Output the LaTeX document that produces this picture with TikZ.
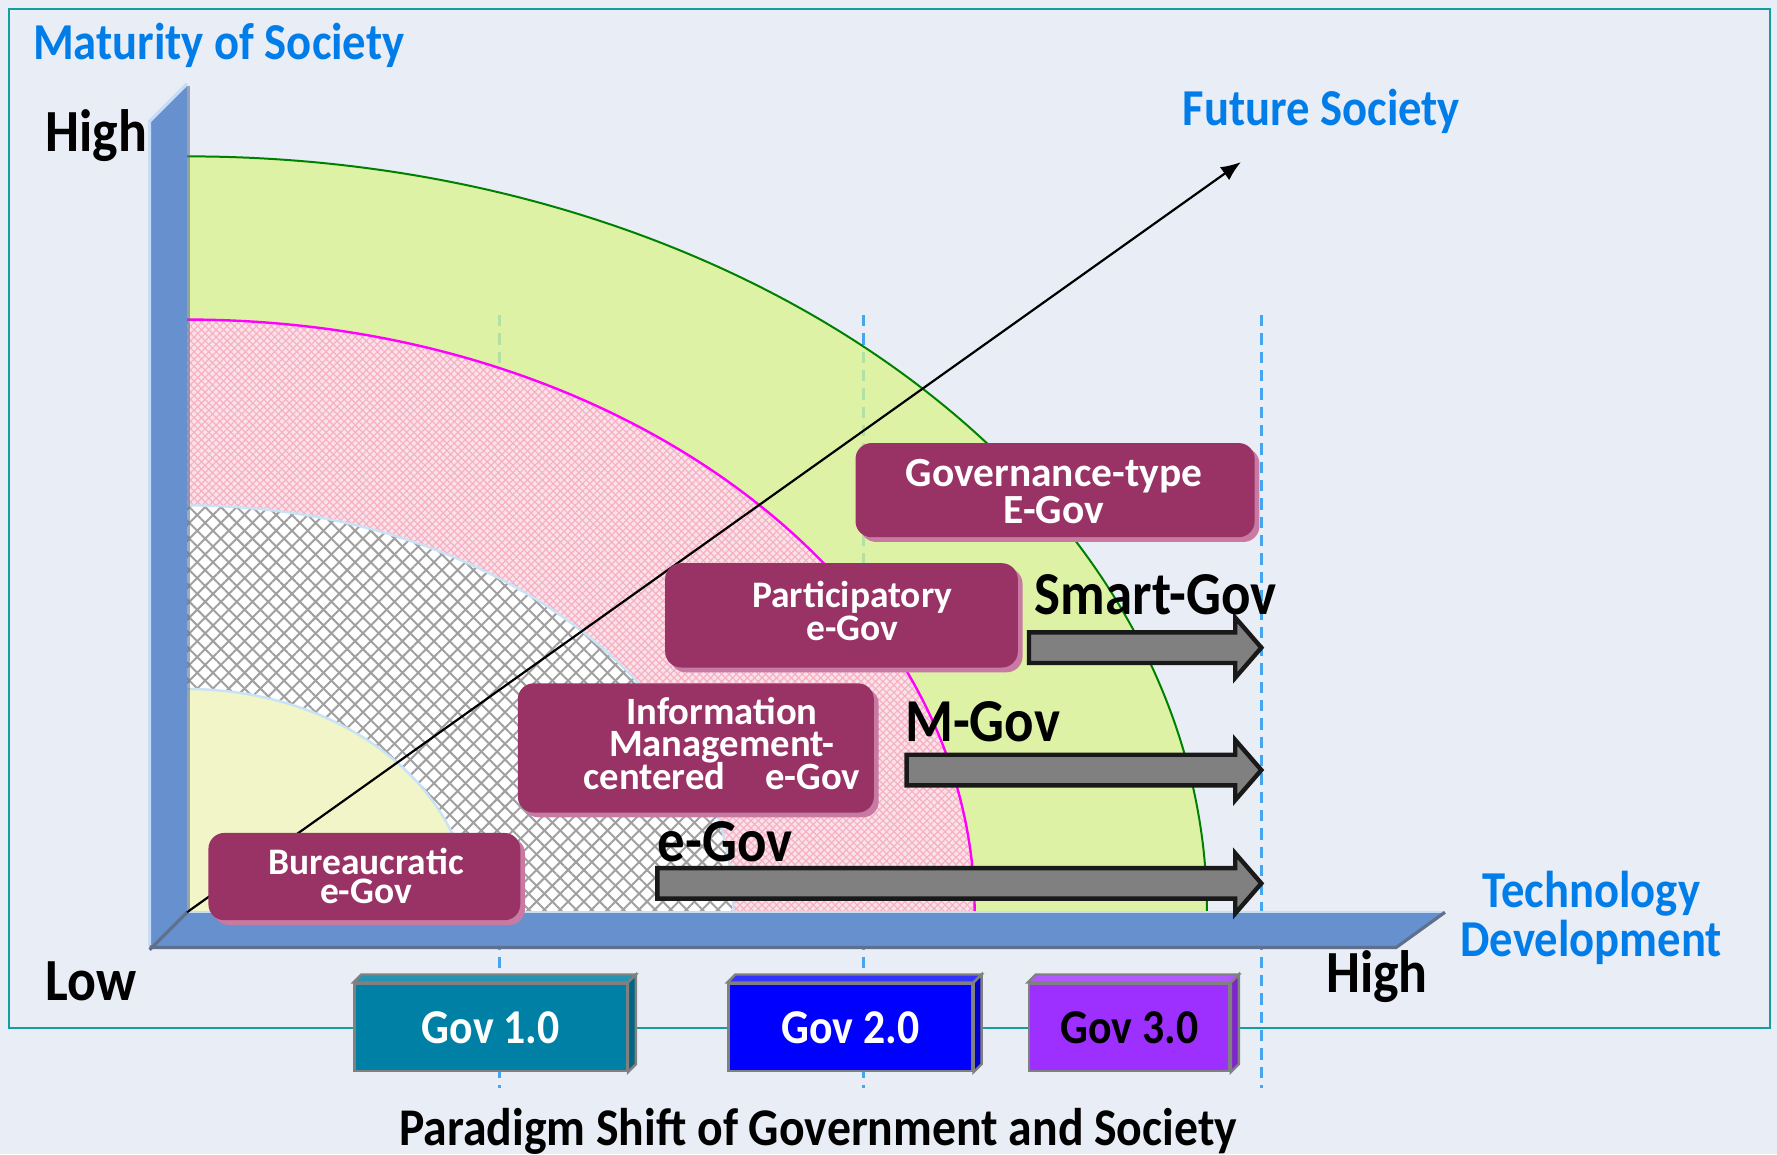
\documentclass[tikz,border=0pt]{standalone}
\usepackage{fontspec}
\setmainfont{Carlito}[FakeStretch=0.9]
\newfontfamily\boxfont{Carlito}
\usetikzlibrary{arrows.meta,patterns.meta,shadows}

\definecolor{bgcol}{RGB}{233,237,246}
\definecolor{framecol}{RGB}{20,158,158}
\definecolor{axiscol}{RGB}{102,144,206}
\definecolor{axisdark}{RGB}{95,112,140}
\definecolor{axislight}{RGB}{200,220,245}
\definecolor{titleblue}{RGB}{0,125,232}
\definecolor{greenfill}{RGB}{217,244,138}
\definecolor{greenline}{RGB}{0,128,0}
\definecolor{arcmagenta}{RGB}{255,0,255}
\definecolor{pinkfill}{RGB}{251,226,233}
\definecolor{pinkhatch}{RGB}{246,176,196}
\definecolor{hatchgray}{RGB}{160,160,160}
\definecolor{yellowfill}{RGB}{242,245,200}
\definecolor{rimblue}{RGB}{200,226,246}
\definecolor{maroon}{RGB}{153,51,102}
\definecolor{maroonrim}{RGB}{200,122,162}
\definecolor{dashblue}{RGB}{70,165,240}
\definecolor{govone}{RGB}{0,128,165}
\definecolor{govtwo}{RGB}{0,0,255}
\definecolor{govthree}{RGB}{158,48,255}

\newcommand{\tightlines}{\lineskiplimit=-20pt\relax}

\begin{document}
\begin{tikzpicture}[x=0.01cm,y=-0.01cm,
    bluetitle/.style={text=titleblue,font=\bfseries\fontsize{13}{12.5}\selectfont,inner sep=0pt,align=center},
    bigblack/.style={font=\bfseries\fontsize{15}{17}\selectfont,inner sep=0pt},
    govlabel/.style={font=\bfseries\fontsize{15.3}{17}\selectfont,inner sep=0pt},
    egovbox/.style={rounded corners=4pt,fill=maroon,inner sep=0pt,
        drop shadow={shadow xshift=1.2pt,shadow yshift=-1.2pt,fill=maroonrim,opacity=1}},
    egovtext/.style={text=white,align=center,inner sep=0pt},
    govbox/.style={draw=gray,line width=0.6pt,font=\bfseries\fontsize{12.2}{14}\selectfont,
        minimum height=0.77cm,inner sep=0pt},
    govside/.style={draw=gray,line width=0.6pt},
    gridline/.style={dashblue,line width=0.65pt,dash pattern=on 2.8pt off 1.8pt},
    blockarrow/.style={fill=gray,draw=black!90,line width=1.1pt,line join=miter}]

\fill[bgcol] (0,0) rectangle (1568,1018);
\draw[framecol,line width=0.6pt] (8,8) rectangle (1562,907);

% generation lines
\draw[gridline] (441,278) -- (441,960);
\draw[gridline] (762,278) -- (762,960);
\draw[gridline] (1113,278) -- (1113,960);

% maturity zones
\fill[greenfill,opacity=0.75] (165,805) -- (165,138) arc[start angle=-90,end angle=0,x radius=900,y radius=667] -- cycle;
\draw[greenline,line width=0.5pt] (165,138) arc[start angle=-90,end angle=0,x radius=900,y radius=667];
\path[fill=pinkfill,
    postaction={pattern={Lines[angle=45,distance=1.3pt,line width=0.3pt]},pattern color=pinkhatch},
    postaction={pattern={Lines[angle=-45,distance=1.3pt,line width=0.3pt]},pattern color=pinkhatch}]
    (165,805) -- (165,282) arc[start angle=-90,end angle=0,x radius=695,y radius=523] -- cycle;
\draw[arcmagenta,line width=0.6pt] (165,282) arc[start angle=-90,end angle=0,x radius=695,y radius=523];
\path[fill=white,
    postaction={pattern={Lines[angle=45,distance=2.8pt,line width=0.5pt]},pattern color=hatchgray},
    postaction={pattern={Lines[angle=-45,distance=2.8pt,line width=0.5pt]},pattern color=hatchgray}]
    (165,805) -- (165,446) arc[start angle=-90,end angle=0,x radius=482,y radius=359] -- cycle;
\draw[rimblue,line width=0.6pt] (165,446) arc[start angle=-90,end angle=0,x radius=482,y radius=359];
\fill[yellowfill] (165,805) -- (165,608) arc[start angle=-90,end angle=0,x radius=250,y radius=197] -- cycle;
\draw[rimblue,line width=0.6pt] (165,608) arc[start angle=-90,end angle=0,x radius=250,y radius=197];

% axes
\fill[axiscol] (132,107) -- (165,74) -- (165,805) -- (132,836) -- cycle;
\fill[axiscol] (132,836) -- (165,805) -- (1275,805) -- (1232,836) -- cycle;
\draw[axislight,line width=0.8pt] (132,834) -- (132,107) -- (165,74);
\draw[axislight,line width=0.6pt] (165,805) -- (1275,805);
\draw[axisdark,line width=0.8pt] (132,836) -- (1232,836) -- (1275,805);
\draw[axisdark,line width=0.8pt] (132,838) -- (165,805);
\draw[axisdark,line width=0.8pt,opacity=0.6] (166,76) -- (166,803);

% development path
\coordinate (origin) at (165,805);
\coordinate (futuretip) at (1095,143);
\draw[-{Latex[length=5pt,width=4pt]},line width=0.55pt] (origin) -- (futuretip);

% stages
\node[egovbox,minimum width=2.75cm,minimum height=0.77cm] (bureau) at (321.5,773.5) {};
\node[egovtext,font={\boxfont\bfseries\fontsize{9.4}{7.4}\selectfont\tightlines}] (bureautext) at (323,773) {Bureaucratic\\e-Gov};
\node[egovbox,minimum width=3.14cm,minimum height=1.14cm] (infomgmt) at (614,660) {};
\node[egovtext,font={\boxfont\bfseries\fontsize{9.7}{8.1}\selectfont\tightlines}] (infomgmttext) at (637,656) {Information\\Management-\\centered\hspace{10pt}e-Gov};
\node[egovbox,minimum width=3.11cm,minimum height=0.92cm] (particip) at (742.5,543) {};
\node[egovtext,font={\boxfont\bfseries\fontsize{9.4}{8.2}\selectfont\tightlines}] (partiptext) at (752,539) {Participatory\\e-Gov};
\node[egovbox,minimum width=3.52cm,minimum height=0.83cm] (governance) at (931,432.5) {};
\node[egovtext,font={\boxfont\bfseries\fontsize{10.4}{9.2}\selectfont\tightlines}] (governtext) at (930,434) {Governance-type\\E-Gov};

% channels
\draw[blockarrow] (908,558) -- (1090,558) -- (1090,545) -- (1113,571.5) -- (1090,598) -- (1090,585) -- (908,585) -- cycle;
\draw[blockarrow] (800,666) -- (1090,666) -- (1090,653) -- (1113,679.5) -- (1090,706) -- (1090,693) -- (800,693) -- cycle;
\draw[blockarrow] (580,766) -- (1090,766) -- (1090,753) -- (1113,779.5) -- (1090,806) -- (1090,793) -- (580,793) -- cycle;
\node[govlabel] (smartgov) at (1020,525) {Smart-Gov};
\node[govlabel] (mgov) at (867,637) {M-Gov};
\node[govlabel] (egov) at (640,743) {e-Gov};

% axis labels
\node[bluetitle] (maturity) at (193,40) {Maturity of Society};
\node[bluetitle] (future) at (1166,98) {Future Society};
\node[bluetitle] (techdev) at (1404,810) {Technology\\Development};
\node[bigblack] (highy) at (85,120) {High};
\node[bigblack] (lowx) at (80,866) {Low};
\node[bigblack] (highx) at (1215,862) {High};
\node[bigblack,font=\bfseries\fontsize{13.3}{15}\selectfont] (paradigm) at (722,998) {Paradigm Shift of Government and Society};

% government generations
\node[govbox,fill=govone,text=white,minimum width=2.4cm] (govA) at (433,906.5) {Gov 1.0};
\node[govbox,fill=govtwo,text=white,minimum width=2.15cm] (govB) at (750.5,906.5) {Gov 2.0};
\node[govbox,fill=govthree,text=black,minimum width=1.77cm] (govC) at (996.5,906.5) {Gov 3.0};
\draw[govside,fill=govone!85!white] (govA.north west) -- ++(7,-7) -- ([shift={(7,-7)}]govA.north east) -- (govA.north east) -- cycle;
\draw[govside,fill=govone!80!black] (govA.north east) -- ++(7,-7) -- ([shift={(7,-7)}]govA.south east) -- (govA.south east) -- cycle;
\draw[govside,fill=govtwo!80!white] (govB.north west) -- ++(7,-7) -- ([shift={(7,-7)}]govB.north east) -- (govB.north east) -- cycle;
\draw[govside,fill=govtwo!80!black] (govB.north east) -- ++(7,-7) -- ([shift={(7,-7)}]govB.south east) -- (govB.south east) -- cycle;
\draw[govside,fill=govthree!80!white] (govC.north west) -- ++(7,-7) -- ([shift={(7,-7)}]govC.north east) -- (govC.north east) -- cycle;
\draw[govside,fill=govthree!80!black] (govC.north east) -- ++(7,-7) -- ([shift={(7,-7)}]govC.south east) -- (govC.south east) -- cycle;
\end{tikzpicture}
\end{document}
